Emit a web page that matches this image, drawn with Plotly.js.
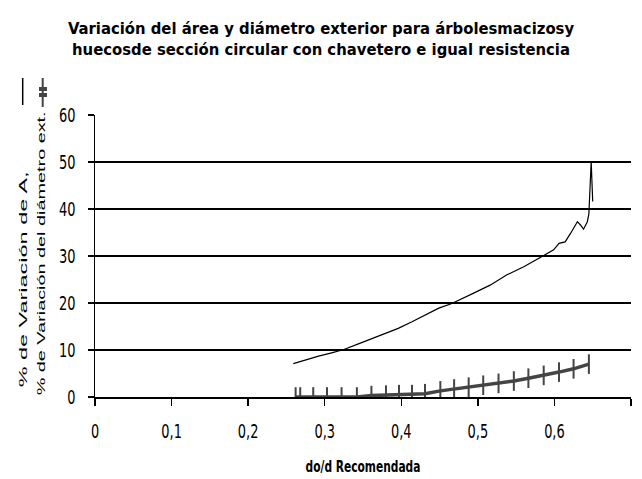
<!DOCTYPE html>
<html>
<head>
<meta charset="utf-8">
<script src="https://cdn.plot.ly/plotly-3.0.1.min.js"></script>
<style>html,body{margin:0;padding:0;background:#fff;}#chart{width:642px;height:479px;}</style>
</head>
<body>
<div id="chart"></div>
<script>
// Series 1: % de Variación de A (thin black line)
const xArea = [0.259, 0.2745, 0.292, 0.309, 0.325, 0.344, 0.362, 0.379, 0.396, 0.414, 0.431, 0.449, 0.466, 0.477, 0.4945, 0.516, 0.538, 0.560, 0.584, 0.599, 0.606, 0.614, 0.621, 0.630, 0.634, 0.638, 0.643, 0.645, 0.648, 0.650];
const yArea = [7.1, 7.9, 8.7, 9.4, 10.1, 11.3, 12.5, 13.5, 14.6, 16.0, 17.4, 18.9, 19.9, 20.7, 22.1, 23.8, 26.0, 27.7, 30.0, 31.3, 32.7, 33.0, 34.8, 37.3, 36.6, 35.7, 37.3, 39.0, 50.1, 41.6];

// Series 2: % de Variación del diámetro ext. (dark grey line with markers)
const xDiam = [0.262, 0.268, 0.285, 0.303, 0.322, 0.342, 0.361, 0.380, 0.397, 0.414, 0.431, 0.451, 0.469, 0.488, 0.507, 0.527, 0.547, 0.566, 0.586, 0.606, 0.625, 0.645];
const yDiam = [0, 0, 0, 0, 0, 0, 0.3, 0.4, 0.5, 0.5, 0.7, 1.3, 1.7, 2.1, 2.5, 2.9, 3.4, 4.0, 4.6, 5.3, 6.0, 7.0];

const titleLines = ["Variación del área y diámetro exterior para árbolesmacizosy", "huecosde sección circular con chavetero e igual resistencia"];
const yTitleLines = ["% de Variación de A,", "% de Variación del diámetro ext."];
const xTitle = "do/d Recomendada";
const xTicks = [0, 0.1, 0.2, 0.3, 0.4, 0.5, 0.6, 0.7];
const yTicks = [0, 10, 20, 30, 40, 50, 60];

const narrow = '"Liberation Sans Narrow", "Arial Narrow", "DejaVu Sans Condensed", sans-serif';

const traces = [
  {x: xArea, y: yArea, type: 'scatter', mode: 'lines', name: yTitleLines[0],
   line: {color: '#000000', width: 1.2}},
  {x: xDiam, y: yDiam, type: 'scatter', mode: 'lines+markers', name: yTitleLines[1],
   line: {color: '#444444', width: 3.5},
   marker: {symbol: 'line-ns', size: 14, color: '#444444', line: {color: '#444444', width: 2}}}
];

const layout = {
  width: 642, height: 479,
  paper_bgcolor: '#ffffff', plot_bgcolor: '#ffffff',
  margin: {l: 95, r: 11, t: 115, b: 82},
  showlegend: false,
  separators: ',.',
  title: {text: titleLines.join('<br>'), x: 0.5, xref: 'container', xanchor: 'center', y: 0.93, yref: 'container', yanchor: 'middle',
          font: {family: narrow, size: 16.5, color: '#000', weight: 'bold'}},
  xaxis: {range: [0, 0.7], tickvals: xTicks, showgrid: false, zeroline: false,
          showline: true, linecolor: '#000', linewidth: 1.5,
          ticks: 'outside', ticklen: 7, tickwidth: 1.5, tickcolor: '#000', ticklabelstandoff: 8,
          tickfont: {family: narrow, size: 20, color: '#000'},
          title: {text: xTitle, standoff: 19, font: {family: narrow, size: 16, color: '#000', weight: 'bold'}}},
  yaxis: {range: [0, 60], tickvals: yTicks, showgrid: true, gridcolor: '#000', gridwidth: 1.5, zeroline: false,
          showline: true, linecolor: '#000', linewidth: 1.5,
          ticks: 'outside', ticklen: 6, tickwidth: 1.5, tickcolor: '#000', ticklabelstandoff: 8,
          tickfont: {family: narrow, size: 20, color: '#000'}},
  annotations: [
    {text: yTitleLines[0], xref: 'paper', yref: 'paper', x: -0.1343, y: 0.4149, xanchor: 'center', yanchor: 'middle',
     textangle: -90, showarrow: false, font: {family: '"Liberation Sans", Arial, sans-serif', size: 11, color: '#000'}},
    {text: yTitleLines[1], xref: 'paper', yref: 'paper', x: -0.0995, y: 0.5089, xanchor: 'center', yanchor: 'middle',
     textangle: -90, showarrow: false, font: {family: '"Liberation Sans", Arial, sans-serif', size: 11, color: '#000'}}
  ],
  shapes: [
    {type: 'line', xref: 'paper', yref: 'paper', x0: -0.1349, x1: -0.1349, y0: 1.0355, y1: 1.1312, line: {color: '#000', width: 1.5}},
    {type: 'line', xref: 'paper', yref: 'paper', x0: -0.0976, x1: -0.0976, y0: 1.0284, y1: 1.1312, line: {color: '#444444', width: 2}},
    {type: 'rect', xref: 'paper', yref: 'paper', x0: -0.1045, x1: -0.0896, y0: 1.0851, y1: 1.0993, fillcolor: '#444444', line: {width: 0}},
    {type: 'rect', xref: 'paper', yref: 'paper', x0: -0.1045, x1: -0.0896, y0: 1.0638, y1: 1.0780, fillcolor: '#444444', line: {width: 0}}
  ]
};

function squeeze(el, k) {
  const L = el.getComputedTextLength();
  if (L > 0) {
    el.setAttribute('textLength', (L * k).toFixed(1));
    el.setAttribute('lengthAdjust', 'spacingAndGlyphs');
  }
}

const yTitleLengths = [216, 284];
Plotly.newPlot('chart', traces, layout, {displayModeBar: false, staticPlot: true}).then(function () {
  document.querySelectorAll('#chart .xtick text, #chart .ytick text').forEach(function (t) { squeeze(t, 0.72); });
  document.querySelectorAll('#chart .xtitle').forEach(function (t) { squeeze(t, 0.74); });
  document.querySelectorAll('#chart .annotation-text').forEach(function (t, i) {
    if (yTitleLengths[i]) {
      t.setAttribute('textLength', yTitleLengths[i]);
      t.setAttribute('lengthAdjust', 'spacingAndGlyphs');
    }
  });
});
</script>
</body>
</html>
